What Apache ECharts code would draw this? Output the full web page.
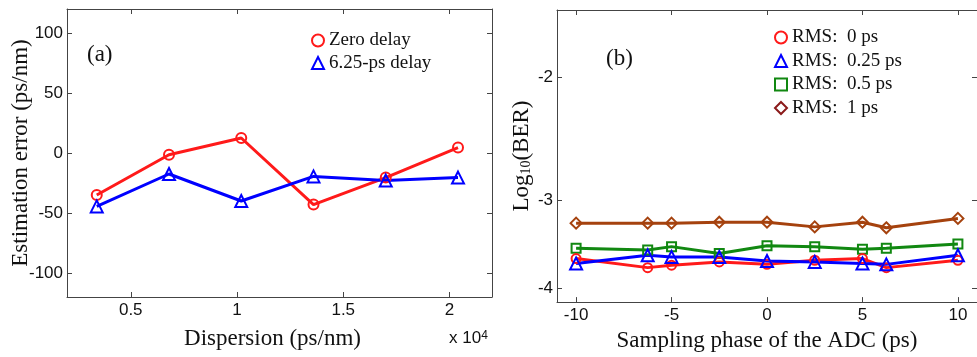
<!DOCTYPE html>
<html>
<head>
<meta charset="utf-8">
<script src="https://cdn.jsdelivr.net/npm/echarts@6/dist/echarts.min.js"></script>
<style>
  html, body { margin: 0; padding: 0; background: #fff; }
  #chart { width: 977px; height: 357px; }
</style>
</head>
<body>
<div id="chart"></div>
<script>
// panel (a): estimation error vs dispersion
const dispersion = [3400, 6800, 10200, 13600, 17000, 20400];
const zeroDelay = [-35, -1.5, 12.5, -43, -20.5, 4.5];
const delay625 = [-44.5, -17.5, -40, -19.5, -23, -20.5];
const dispTicks = [5000, 10000, 15000, 20000];
const errTicks = [-100, -50, 0, 50, 100];

// panel (b): log10(BER) vs sampling phase
const phase = [-10, -6.25, -5, -2.5, 0, 2.5, 5, 6.25, 10];
const rms0 = [-3.63, -3.74, -3.71, -3.67, -3.70, -3.65, -3.63, -3.74, -3.65];
const rms025 = [-3.69, -3.59, -3.61, -3.61, -3.66, -3.67, -3.69, -3.70, -3.59];
const rms05 = [-3.51, -3.53, -3.49, -3.57, -3.48, -3.49, -3.52, -3.51, -3.46];
const rms1 = [-3.23, -3.23, -3.23, -3.22, -3.22, -3.27, -3.22, -3.28, -3.18];
const phaseTicks = [-10, -5, 0, 5, 10];
const berTicks = [-2, -3, -4];

const SERIF = '"Liberation Serif", "Times New Roman", serif';
const SANS = '"Liberation Sans", Arial, sans-serif';
const AXIS = '#444';

const chart = echarts.init(document.getElementById('chart'));

function ticks(vals) {
  return { show: true, inside: true, length: 5, customValues: vals, lineStyle: { color: AXIS } };
}

function boxAxis(extra) {
  // plain axis piece used for the box frame (top / right sides)
  return Object.assign({
    axisLine: { show: true, onZero: false, lineStyle: { color: AXIS, width: 1 } },
    axisLabel: { show: false },
    splitLine: { show: false }
  }, extra);
}

function pairs(xs, ys, f) {
  return xs.map((x, i) => [x, f ? f(ys[i]) : ys[i]]);
}

function lineSeries(name, color, symbol, size, xi, yi, data) {
  return {
    name: name,
    type: 'line',
    xAxisIndex: xi,
    yAxisIndex: yi,
    data: data,
    symbol: symbol,
    symbolSize: size,
    showSymbol: true,
    lineStyle: { color: color, width: 3 },
    itemStyle: { color: 'rgba(255,255,255,0)', borderColor: color, borderWidth: 2 },
    emphasis: { disabled: true },
    z: 3
  };
}

function legendItem(name, icon, color) {
  return { name: name, icon: icon, itemStyle: { color: 'rgba(255,255,255,0)', borderColor: color, borderWidth: 2 } };
}

const RED = '#ff1a1a', BLUE = '#0000ff', GREEN = '#118811', BROWN = '#a5420e';
const axisLine = { show: true, onZero: false, lineStyle: { color: AXIS, width: 1 } };

const option = {
  animation: false,
  backgroundColor: '#fff',
  grid: [
    { left: 67, top: 9, width: 425, height: 288 },
    { left: 557, top: 10, width: 420, height: 294 }
  ],
  xAxis: [
    {
      type: 'value', gridIndex: 0, min: 2000, max: 22000,
      axisLine: axisLine,
      axisTick: ticks(dispTicks),
      axisLabel: { customValues: dispTicks, formatter: v => String(v / 10000), color: '#111', fontFamily: SANS, fontSize: 17, margin: 5 },
      splitLine: { show: false },
      name: 'Dispersion (ps/nm)', nameLocation: 'middle', nameGap: 30,
      nameTextStyle: { fontFamily: SERIF, fontSize: 23, color: '#111', padding: [0, 14, 0, 0] }
    },
    boxAxis({ type: 'value', gridIndex: 0, position: 'top', min: 2000, max: 22000, axisTick: ticks(dispTicks) }),
    {
      type: 'value', gridIndex: 1, min: -11, max: 11,
      axisLine: axisLine,
      axisTick: ticks(phaseTicks),
      axisLabel: { customValues: phaseTicks, color: '#111', fontFamily: SANS, fontSize: 17, margin: 5 },
      splitLine: { show: false },
      name: 'Sampling phase of the ADC (ps)', nameLocation: 'middle', nameGap: 25,
      nameTextStyle: { fontFamily: SERIF, fontSize: 23, color: '#111' }
    },
    boxAxis({ type: 'value', gridIndex: 1, position: 'top', min: -11, max: 11, axisTick: ticks(phaseTicks) })
  ],
  yAxis: [
    {
      type: 'value', gridIndex: 0, min: -120, max: 120,
      axisLine: axisLine,
      axisTick: ticks(errTicks),
      axisLabel: { customValues: errTicks, color: '#111', fontFamily: SANS, fontSize: 17, margin: 4 },
      splitLine: { show: false },
      name: 'Estimation error (ps/nm)', nameLocation: 'middle', nameGap: 35, nameMoveOverlap: false,
      nameTextStyle: { fontFamily: SERIF, fontSize: 23, color: '#111' }
    },
    boxAxis({ type: 'value', gridIndex: 0, position: 'right', min: -120, max: 120, axisTick: ticks(errTicks) }),
    {
      // log axis on |log10(BER)|, drawn upside down so -2 sits on top
      type: 'log', gridIndex: 1, min: 1.6, max: 4.19, inverse: true,
      axisLine: axisLine,
      axisTick: ticks(berTicks.map(v => -v)),
      axisLabel: { customValues: berTicks.map(v => -v), formatter: v => '-' + v, color: '#111', fontFamily: SANS, fontSize: 17, margin: 4 },
      splitLine: { show: false },
      name: 'Log{s|10}(BER)', nameLocation: 'middle', nameGap: 24,
      nameTextStyle: {
        fontFamily: SERIF, fontSize: 23, color: '#111',
        rich: {
          s: { fontFamily: SERIF, fontSize: 14, color: '#111', lineHeight: 14, verticalAlign: 'bottom' }
        }
      }
    },
    boxAxis({ type: 'log', gridIndex: 1, position: 'right', min: 1.6, max: 4.19, inverse: true, axisTick: ticks(berTicks.map(v => -v)) })
  ],
  legend: [
    {
      left: 311, top: 31, padding: 0, orient: 'vertical', itemGap: 3.5, itemWidth: 12, itemHeight: 12,
      textStyle: { fontFamily: SERIF, fontSize: 19, color: '#111' },
      data: [legendItem('Zero delay', 'circle', RED), legendItem('6.25-ps delay', 'triangle', BLUE)]
    },
    {
      left: 774, top: 28, padding: 0, orient: 'vertical', itemGap: 4.5, itemWidth: 12, itemHeight: 12,
      textStyle: { fontFamily: SERIF, fontSize: 19, color: '#111' },
      data: [
        legendItem('RMS:  0 ps', 'circle', RED),
        legendItem('RMS:  0.25 ps', 'triangle', BLUE),
        legendItem('RMS:  0.5 ps', 'rect', GREEN),
        legendItem('RMS:  1 ps', 'diamond', '#8b1a1a')
      ]
    }
  ],
  series: [
    lineSeries('Zero delay', RED, 'circle', 10, 0, 0, pairs(dispersion, zeroDelay)),
    lineSeries('6.25-ps delay', BLUE, 'triangle', 12, 0, 0, pairs(dispersion, delay625)),
    lineSeries('RMS:  1 ps', BROWN, 'diamond', 11, 2, 2, pairs(phase, rms1, v => -v)),
    lineSeries('RMS:  0.5 ps', GREEN, 'rect', 9, 2, 2, pairs(phase, rms05, v => -v)),
    lineSeries('RMS:  0 ps', RED, 'circle', 9, 2, 2, pairs(phase, rms0, v => -v)),
    lineSeries('RMS:  0.25 ps', BLUE, 'triangle', 12, 2, 2, pairs(phase, rms025, v => -v))
  ],
  graphic: [
    { type: 'text', left: 87, top: 43, style: { text: '(a)', fontFamily: SERIF, fontSize: 23, fill: '#111' } },
    { type: 'text', left: 606, top: 47, style: { text: '(b)', fontFamily: SERIF, fontSize: 23, fill: '#111' } },
    {
      type: 'text', left: 449, top: 330,
      style: {
        text: 'x 10{p|4}', fontFamily: SANS, fontSize: 17, fill: '#111',
        rich: { p: { fontFamily: SANS, fontSize: 12, fill: '#111', verticalAlign: 'top', lineHeight: 12 } }
      }
    }
  ]
};

chart.setOption(option);
</script>
</body>
</html>
